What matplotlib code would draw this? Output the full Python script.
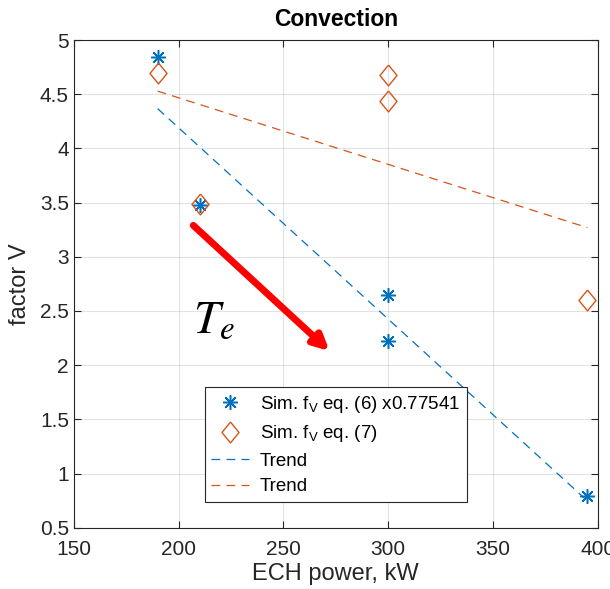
import numpy as np
import matplotlib
matplotlib.use("Agg")
import matplotlib.pyplot as plt

plt.rcParams['font.family'] = ['Liberation Sans', 'DejaVu Sans']
plt.rcParams['mathtext.default'] = 'regular'

# data
power = [190, 210, 300, 300, 395]
fv_eq6 = [4.84, 3.48, 2.65, 2.22, 0.79]
fv_eq7 = [4.70, 3.49, 4.68, 4.44, 2.60]
yticks = [0.5, 1, 1.5, 2, 2.5, 3, 3.5, 4, 4.5, 5]
xticks = [150, 200, 250, 300, 350, 400]

blue = '#0072BD'
orange = '#D95319'
# MATLAB-like diamond (taller than wide)
diamond = [(0, 1), (0.82, 0), (0, -1), (-0.82, 0), (0, 1)]

fig = plt.figure(figsize=(6.10, 5.89), dpi=100)
ax = fig.add_axes([0.121, 0.104, 0.859, 0.828])

ax.plot(power, fv_eq6, ls='none', marker=(8, 2, 0), ms=10.5, mew=1.1, color=blue,
        label=r'Sim. f$_V$ eq. (6) x0.77541', zorder=3)
ax.plot(power, fv_eq7, ls='none', marker=diamond, ms=15, mew=1.0, mfc='none', color=orange,
        label=r'Sim. f$_V$ eq. (7)', zorder=3)

# linear trends
xs = np.array([min(power), max(power)])
p6 = np.polyfit(power, fv_eq6, 1)
p7 = np.polyfit(power, fv_eq7, 1)
ax.plot(xs, np.polyval(p6, xs), ls=(0, (7, 5)), lw=0.9, color=blue, label='Trend')
ax.plot(xs, np.polyval(p7, xs), ls=(0, (7, 5)), lw=0.9, color=orange, label='Trend')

# T_e annotation
ax.annotate('', xy=(272, 2.13), xytext=(207, 3.29),
            arrowprops=dict(arrowstyle='-|>,head_length=0.9,head_width=0.45',
                            color='red', lw=5, shrinkA=0, shrinkB=0))
ax.text(217, 2.41, r'$\mathit{T_e}$', fontsize=34, ha='center', va='center',
        math_fontfamily='stix')

ax.set_xlim(150, 400)
ax.set_ylim(0.5, 5)
ax.set_xticks(xticks)
ax.set_yticks(yticks)
ax.set_yticklabels(['%g' % v for v in yticks])
ax.tick_params(direction='in', labelsize=15, length=5, width=0.8, colors='#262626',
               top=True, right=True)
ax.tick_params(axis='x', pad=9)
for s in ax.spines.values():
    s.set_color('#262626')
    s.set_linewidth(0.8)
ax.grid(True, color='#262626', alpha=0.13, lw=0.8)
ax.set_axisbelow(True)

ax.set_xlabel('ECH power, kW', fontsize=17, color='#262626', labelpad=3)
ax.set_ylabel('factor V', fontsize=17, color='#262626', labelpad=6)
ax.set_title('Convection', fontsize=16.5, fontweight='bold', pad=10)

leg = ax.legend(loc='lower left', bbox_to_anchor=(0.25, 0.053), fontsize=13.5,
                fancybox=False, framealpha=1, edgecolor='#262626', handlelength=2,
                borderpad=0.35, labelspacing=0.45, handletextpad=0.6, borderaxespad=0)
leg.get_frame().set_linewidth(0.8)

fig.savefig('out.png', dpi=100)
